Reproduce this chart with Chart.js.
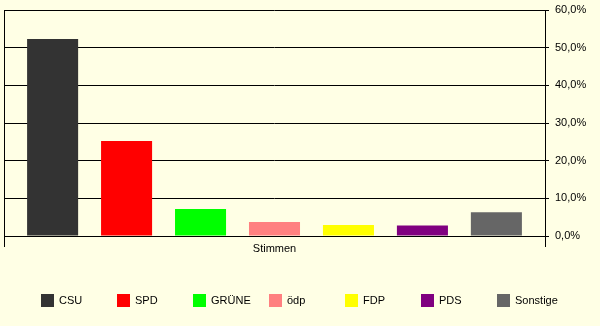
<!DOCTYPE html>
<html>
<head>
<meta charset="utf-8">
<script src="https://cdn.jsdelivr.net/npm/chart.js@4/dist/chart.umd.min.js"></script>
<style>
  html, body { margin: 0; padding: 0; background: #ffffe5; }
  canvas { display: block; }
</style>
</head>
<body>
<canvas id="chart" width="600" height="326"></canvas>
<script>
const categories = ['Stimmen'];
const parties = ['CSU', 'SPD', 'GRÜNE', 'ödp', 'FDP', 'PDS', 'Sonstige'];
const shares = [52.3, 25.2, 7.2, 3.7, 2.9, 2.8, 6.3];
const partyColors = ['#333333', '#ff0000', '#00ff00', '#ff8080', '#ffff00', '#800080', '#666666'];
const yTicks = [0, 10, 20, 30, 40, 50, 60];

const FONT = { family: '"Liberation Sans", Arial, sans-serif', size: 11 };

// legend mit festem Abstand wie im Original
const fixedLegend = {
  id: 'fixedLegend',
  afterDraw(chart) {
    const ctx = chart.ctx;
    ctx.save();
    ctx.font = FONT.size + 'px ' + FONT.family;
    ctx.textBaseline = 'middle';
    chart.data.datasets.forEach((ds, i) => {
      const x = 41 + i * 76;
      const y = 294;
      ctx.fillStyle = ds.backgroundColor;
      ctx.fillRect(x, y, 13, 13);
      ctx.fillStyle = '#000';
      ctx.fillText(ds.label, x + 18, y + 7);
    });
    ctx.restore();
  }
};

new Chart(document.getElementById('chart').getContext('2d'), {
  type: 'bar',
  data: {
    labels: categories,
    datasets: parties.map((p, i) => ({
      label: p,
      data: [shares[i]],
      backgroundColor: partyColors[i],
      borderWidth: 0,
      categoryPercentage: 0.957,
      barPercentage: 0.69,
    })),
  },
  options: {
    responsive: false,
    animation: false,
    layout: { padding: { top: 10, left: 4, right: 0, bottom: 70 } },
    plugins: {
      legend: { display: false },
      tooltip: { enabled: false },
    },
    scales: {
      x: {
        grid: { offset: true, color: '#000', lineWidth: 1, tickLength: 11 },
        border: { color: '#000' },
        ticks: { color: '#000', font: FONT, padding: -5 },
        afterFit: (s) => { s.height = 20; s.paddingLeft = 0; s.paddingRight = 0; },
      },
      y: {
        position: 'right',
        min: 0,
        max: 60,
        afterBuildTicks: (s) => { s.ticks = yTicks.map(v => ({ value: v })); },
        grid: { color: '#000', lineWidth: 1, tickLength: 4 },
        border: { color: '#000' },
        ticks: {
          color: '#000',
          font: FONT,
          padding: 6,
          callback: (v) => v.toFixed(1).replace('.', ',') + '%',
        },
        afterFit: (s) => { s.width = 55; s.paddingTop = 0; s.paddingBottom = 0; },
      },
    },
  },
  plugins: [fixedLegend],
});
</script>
</body>
</html>
